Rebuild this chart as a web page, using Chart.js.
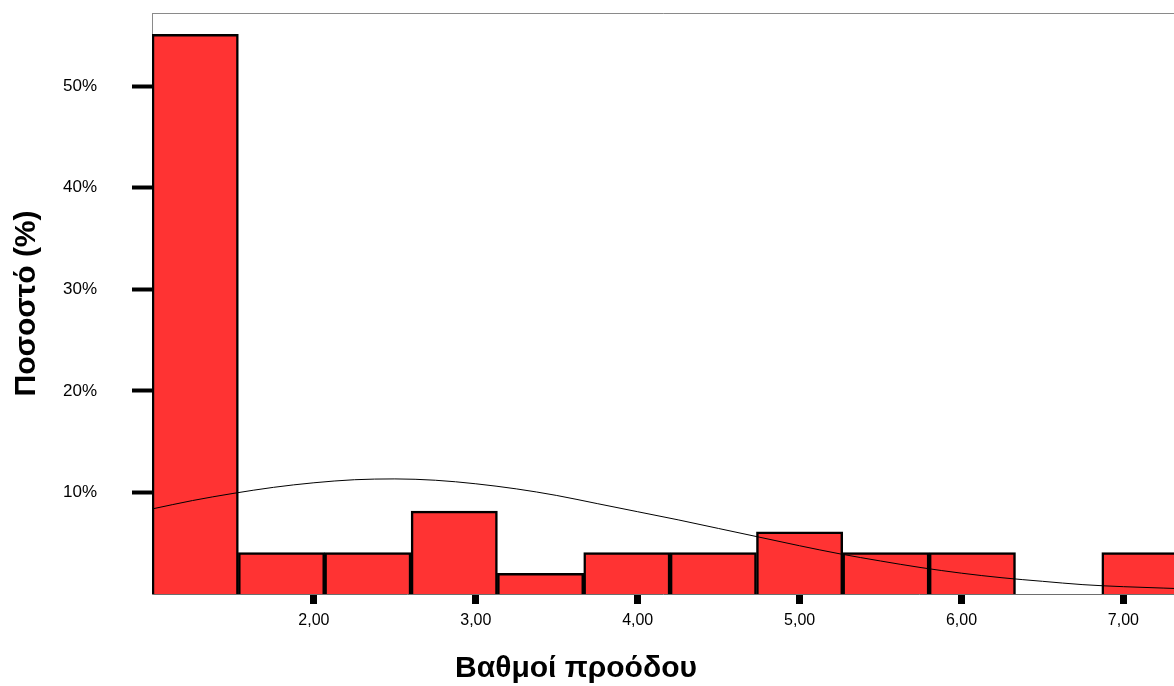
<!DOCTYPE html>
<html lang="el">
<head>
<meta charset="utf-8">
<title>Βαθμοί προόδου</title>
<script src="https://cdn.jsdelivr.net/npm/chart.js@4.4.1/dist/chart.umd.min.js"></script>
<style>
  html, body { margin: 0; padding: 0; background: #ffffff; overflow: hidden; }
  #wrap { width: 1174px; height: 686px; }
  canvas { display: block; }
</style>
</head>
<body>
<div id="wrap"><canvas id="hist" width="1174" height="686"></canvas></div>
<script>
// Histogram of progress grades (percent of cases per bin)
const binCenters = [1.267, 1.800, 2.333, 2.867, 3.400, 3.933, 4.467, 5.000, 5.533, 6.067, 6.600, 7.133];
const binPercents = [55.10, 4.08, 4.08, 8.16, 2.04, 4.08, 4.08, 6.12, 4.08, 4.08, 0, 4.08];

// Fitted normal curve, sampled along the grade axis
const curveX = [1.00, 1.25, 1.50, 1.75, 2.00, 2.25, 2.50, 2.75, 3.00, 3.25, 3.50, 3.75, 4.00, 4.25,
                4.50, 4.75, 5.00, 5.25, 5.50, 5.75, 6.00, 6.25, 6.50, 6.75, 7.00, 7.25, 7.50];
const curveY = [8.37, 9.20, 9.90, 10.50, 10.95, 11.25, 11.33, 11.20, 10.85, 10.35, 9.70, 8.90, 8.10, 7.30,
                6.45, 5.60, 4.75, 3.95, 3.25, 2.60, 2.05, 1.60, 1.25, 0.92, 0.72, 0.58, 0.45];

const yTicks = [10, 20, 30, 40, 50];
const xTicks = [2, 3, 4, 5, 6, 7];

const xTitle = 'Βαθμοί προόδου';
const yTitle = 'Ποσοστό (%)';

const FONT = '"Liberation Sans", Arial, sans-serif';

// Gray frame along the top and left of the plot area, plus the x-axis caption
const framePlugin = {
  id: 'frame',
  beforeDatasetsDraw(chart) {
    const { ctx, chartArea: a } = chart;
    ctx.save();
    ctx.strokeStyle = '#8a8a8a';
    ctx.lineWidth = 1;
    ctx.beginPath();
    ctx.moveTo(a.left + 0.5, a.bottom);
    ctx.lineTo(a.left + 0.5, a.top + 0.5);
    ctx.lineTo(a.right, a.top + 0.5);
    ctx.stroke();
    ctx.restore();
  },
  afterDraw(chart) {
    const { ctx } = chart;
    ctx.save();
    ctx.fillStyle = '#000';
    ctx.font = 'bold 30px ' + FONT;
    ctx.textAlign = 'center';
    ctx.textBaseline = 'middle';
    ctx.fillText(xTitle, 576, 669);
    ctx.restore();
  }
};

new Chart(document.getElementById('hist'), {
  type: 'bar',
  data: {
    datasets: [
      {
        type: 'line',
        order: 0,
        data: curveX.map((x, i) => ({ x, y: curveY[i] })),
        borderColor: '#000000',
        borderWidth: 1,
        pointRadius: 0,
        fill: false,
        cubicInterpolationMode: 'monotone',
        clip: 0
      },
      {
        type: 'bar',
        order: 1,
        data: binCenters.map((x, i) => ({ x, y: binPercents[i] })),
        backgroundColor: '#ff3333',
        borderColor: '#000000',
        borderWidth: 2.5,
        borderSkipped: 'start',
        barPercentage: 1,
        categoryPercentage: 1
      }
    ]
  },
  options: {
    responsive: false,
    animation: false,
    layout: { autoPadding: false, padding: { top: 13, right: 0, left: 0, bottom: 0 } },
    plugins: { legend: { display: false }, tooltip: { enabled: false } },
    scales: {
      x: {
        type: 'linear',
        min: 1,
        max: 7.3125,
        offset: false,
        z: 1,
        afterFit(scale) {
          scale.height = 92;
          scale.paddingLeft = 0;
          scale.paddingRight = 0;
        },
        afterBuildTicks(scale) { scale.ticks = xTicks.map(v => ({ value: v })); },
        grid: {
          offset: false,
          drawOnChartArea: false,
          drawTicks: true,
          tickLength: 10,
          tickWidth: 7,
          tickColor: '#000000'
        },
        border: { display: true, color: '#6e6e6e', width: 1 },
        ticks: {
          autoSkip: false,
          maxRotation: 0,
          padding: 7,
          color: '#000000',
          font: { family: FONT, size: 16 },
          callback: v => v.toFixed(2).replace('.', ',')
        }
      },
      y: {
        type: 'linear',
        min: 0,
        max: 57.2,
        afterFit(scale) {
          scale.width = 152;
          scale.paddingTop = 0;
          scale.paddingBottom = 0;
        },
        afterBuildTicks(scale) { scale.ticks = yTicks.map(v => ({ value: v })); },
        grid: {
          drawOnChartArea: false,
          drawTicks: true,
          tickLength: 20,
          tickWidth: 4,
          tickColor: '#000000'
        },
        border: { display: true, color: '#8a8a8a', width: 1 },
        ticks: {
          padding: 35,
          color: '#000000',
          font: { family: FONT, size: 17 },
          callback: v => v + '%'
        },
        title: {
          display: true,
          text: yTitle,
          color: '#000000',
          font: { family: FONT, size: 30, weight: 'bold' },
          padding: { top: 9, bottom: 0 }
        }
      }
    }
  },
  plugins: [framePlugin]
});
</script>
</body>
</html>
